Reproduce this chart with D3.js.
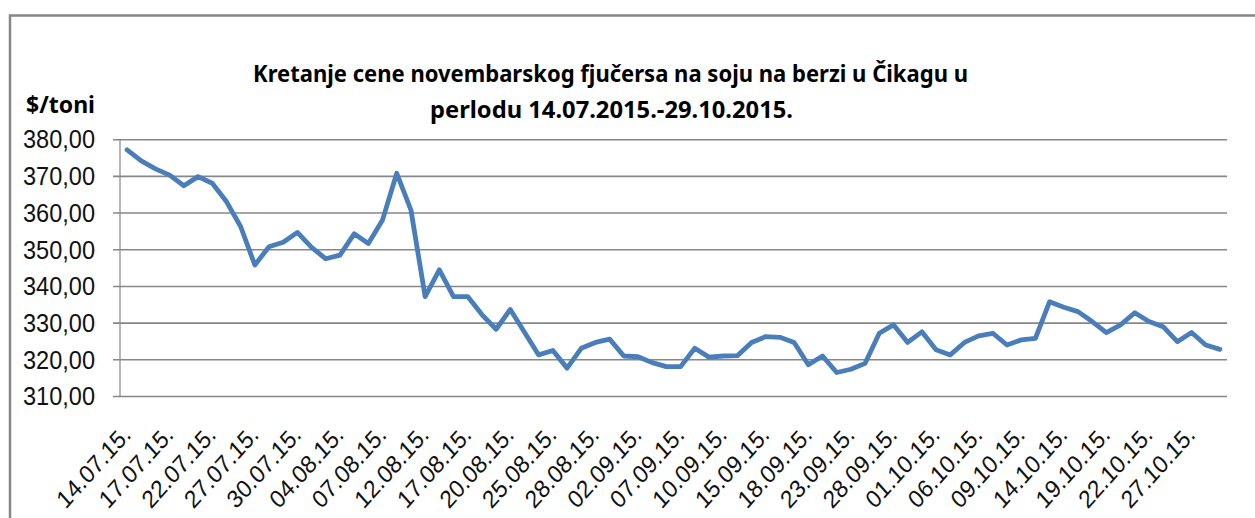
<!DOCTYPE html>
<html>
<head>
<meta charset="utf-8">
<script src="https://cdn.jsdelivr.net/npm/d3@7"></script>
<style>
  body { margin: 0; background: #fff; }
  svg { display: block; }
</style>
</head>
<body>
<div id="chart"></div>
<script>
// Soybean November futures, CBOT, 14.07.2015 - 29.10.2015 (weekdays)
let dates = [
  "14.07.15.", "15.07.15.", "16.07.15.", "17.07.15.", "20.07.15.", "21.07.15.", "22.07.15.",
  "23.07.15.", "24.07.15.", "27.07.15.", "28.07.15.", "29.07.15.", "30.07.15.", "31.07.15.",
  "03.08.15.", "04.08.15.", "05.08.15.", "06.08.15.", "07.08.15.", "10.08.15.", "11.08.15.",
  "12.08.15.", "13.08.15.", "14.08.15.", "17.08.15.", "18.08.15.", "19.08.15.", "20.08.15.",
  "21.08.15.", "24.08.15.", "25.08.15.", "26.08.15.", "27.08.15.", "28.08.15.", "31.08.15.",
  "01.09.15.", "02.09.15.", "03.09.15.", "04.09.15.", "07.09.15.", "08.09.15.", "09.09.15.",
  "10.09.15.", "11.09.15.", "14.09.15.", "15.09.15.", "16.09.15.", "17.09.15.", "18.09.15.",
  "21.09.15.", "22.09.15.", "23.09.15.", "24.09.15.", "25.09.15.", "28.09.15.", "29.09.15.",
  "30.09.15.", "01.10.15.", "02.10.15.", "05.10.15.", "06.10.15.", "07.10.15.", "08.10.15.",
  "09.10.15.", "12.10.15.", "13.10.15.", "14.10.15.", "15.10.15.", "16.10.15.", "19.10.15.",
  "20.10.15.", "21.10.15.", "22.10.15.", "23.10.15.", "26.10.15.", "27.10.15.", "28.10.15.",
  "29.10.15."
];

// price in $/t
let prices = [
  377.1, 374.1, 371.9, 370.2, 367.3, 369.8, 368.0, 363.0, 356.2, 345.7,
  350.7, 351.9, 354.6, 350.5, 347.4, 348.4, 354.2, 351.6, 358.0, 370.7,
  360.7, 337.1, 344.4, 337.1, 337.1, 332.2, 328.2, 333.6, 327.4, 321.2,
  322.4, 317.6, 323.0, 324.6, 325.5, 320.9, 320.7, 319.1, 318.0, 318.0,
  323.0, 320.6, 320.9, 321.0, 324.6, 326.2, 326.0, 324.6, 318.5, 320.9,
  316.4, 317.3, 318.9, 327.1, 329.4, 324.6, 327.5, 322.6, 321.2, 324.6,
  326.4, 327.1, 323.9, 325.3, 325.7, 335.7, 334.2, 333.0, 330.3, 327.3,
  329.4, 332.7, 330.3, 328.9, 324.8, 327.3, 323.9, 322.7
];

let yTicks = [310, 320, 330, 340, 350, 360, 370, 380];

let titleLines = [
  "Kretanje cene novembarskog fjučersa na soju na berzi u Čikagu u",
  "perlodu 14.07.2015.-29.10.2015."
];
let unitLabel = "$/toni";

let width = 1255;
let height = 518;

let svg = d3.select("#chart")
  .append("svg")
  .attr("width", width)
  .attr("height", height);

// outer chart border (runs off the right and bottom edge)
svg.append("rect")
  .attr("x", 10)
  .attr("y", 15.5)
  .attr("width", 1270)
  .attr("height", 530)
  .attr("fill", "none")
  .attr("stroke", "#878787")
  .attr("stroke-width", 2.5);

let plotLeft = 120, plotRight = 1227, plotTop = 139.2, plotBottom = 396;

let xScale = d3.scaleBand()
  .domain(dates)
  .range([plotLeft, plotRight])
  .padding(0);

let yScale = d3.scaleLinear()
  .domain([310, 380])
  .range([plotBottom, plotTop]);

// gridlines + y axis
let yAxis = d3.axisLeft(yScale)
  .tickValues(yTicks)
  .tickSize(-(plotRight - plotLeft))
  .tickPadding(25)
  .tickFormat(d => d3.format(".2f")(d).replace(".", ","));

let gy = svg.append("g")
  .attr("transform", "translate(" + plotLeft + ",0)")
  .call(yAxis);

gy.select(".domain").remove();
gy.selectAll(".tick line")
  .attr("x1", -7)
  .attr("stroke", "#878787")
  .attr("stroke-width", 1.6);
gy.selectAll(".tick text")
  .attr("x", -25)
  .attr("dy", "0.35em")
  .attr("textLength", 72)
  .attr("lengthAdjust", "spacingAndGlyphs")
  .style("font-family", "'Liberation Sans', Arial, sans-serif")
  .style("font-size", "25px")
  .attr("fill", "#111");

// vertical axis line
svg.append("line")
  .attr("x1", plotLeft).attr("x2", plotLeft)
  .attr("y1", plotTop).attr("y2", plotBottom)
  .attr("stroke", "#878787")
  .attr("stroke-width", 1.2);

// category labels, every third day
let xAxis = d3.axisBottom(xScale)
  .tickValues(dates.filter((d, i) => i % 3 === 0))
  .tickSize(0);

let gx = svg.append("g")
  .attr("transform", "translate(0," + plotBottom + ")")
  .call(xAxis);

gx.select(".domain").remove();
gx.selectAll(".tick text")
  .attr("text-anchor", "end")
  .attr("x", 0)
  .attr("y", 0)
  .attr("dy", 0)
  .attr("transform", "translate(5,40) scale(0.9,1) rotate(-45)")
  .style("font-family", "'Liberation Sans', Arial, sans-serif")
  .style("font-size", "25px")
  .attr("fill", "#111");

// price line
let lineCreator = d3.line()
  .x((d, i) => xScale(dates[i]) + xScale.bandwidth() / 2)
  .y(d => yScale(d));

svg.append("path")
  .datum(prices)
  .attr("fill", "none")
  .attr("stroke", "#4a7ebb")
  .attr("stroke-width", 4.8)
  .attr("stroke-linejoin", "round")
  .attr("stroke-linecap", "round")
  .attr("d", lineCreator);

// title
svg.append("text")
  .attr("x", 253)
  .attr("y", 82)
  .attr("textLength", 715)
  .attr("lengthAdjust", "spacingAndGlyphs")
  .style("font-family", "'Noto Sans', 'Open Sans', sans-serif")
  .style("font-weight", "bold")
  .style("font-size", "23px")
  .text(titleLines[0]);

svg.append("text")
  .attr("x", 430)
  .attr("y", 118)
  .attr("textLength", 363)
  .attr("lengthAdjust", "spacingAndGlyphs")
  .style("font-family", "'Noto Sans', 'Open Sans', sans-serif")
  .style("font-weight", "bold")
  .style("font-size", "23px")
  .text(titleLines[1]);

// unit label
svg.append("text")
  .attr("x", 26)
  .attr("y", 113)
  .attr("textLength", 69)
  .attr("lengthAdjust", "spacingAndGlyphs")
  .style("font-family", "'Noto Sans', 'Open Sans', sans-serif")
  .style("font-weight", "bold")
  .style("font-size", "24px")
  .text(unitLabel);
</script>
</body>
</html>
